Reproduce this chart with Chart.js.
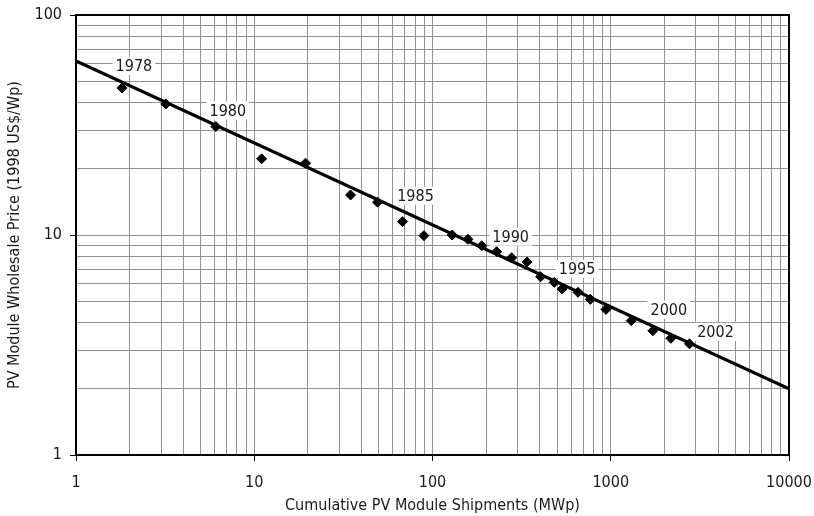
<!DOCTYPE html>
<html>
<head>
<meta charset="utf-8">
<script src="https://cdn.jsdelivr.net/npm/chart.js@4"></script>
<style>
  html, body { margin: 0; padding: 0; background: #fff; }
  #wrap { width: 814px; height: 516px; }
</style>
</head>
<body>
<div id="wrap"><canvas id="pv-chart" width="814" height="516"></canvas></div>
<script>
// 年ごとの累積出荷量 (MWp) と価格 (1998 US$/Wp)
const years = [1978, 1979, 1980, 1981, 1982, 1983, 1984, 1985, 1986, 1987, 1988, 1989, 1990,
               1991, 1992, 1993, 1994, 1995, 1996, 1997, 1998, 1999, 2000, 2001, 2002];
const shipments = [1.81, 3.19, 6.09, 11.0, 19.4, 34.7, 49.2, 67.9, 89.5, 129, 158, 189, 229,
                   278, 339, 404, 482, 533, 655, 768, 940, 1303, 1723, 2174, 2765];
const prices = [46.6, 39.4, 31.1, 22.2, 21.2, 15.2, 14.1, 11.5, 9.93, 10.0, 9.56, 8.94, 8.40,
                7.88, 7.54, 6.46, 6.09, 5.68, 5.49, 5.10, 4.59, 4.08, 3.67, 3.39, 3.20];

// 近似直線の両端
const trendX = [1, 10000];
const trendY = [61.8, 2.0];

// 目盛りラベル
const xTickLabels = [1, 10, 100, 1000, 10000];
const yTickLabels = [1, 10, 100];

// 年ラベルを付ける年
const labeledYears = [1978, 1980, 1985, 1990, 1995, 2000, 2002];

// ラベルの位置 (点からのずれ, px)
const labelOffsets = {
    1978: [12, -22], 1980: [12, -16], 1985: [13, -26], 1990: [14, -15],
    1995: [15, -20], 2000: [16, -21], 2002: [26, -12]
};

const FONT = '"DejaVu Sans Condensed", "DejaVu Sans", sans-serif';
const GRID = '#929292';

// 対数目盛りの補助線 (1,2,...,9 × 10^n)
function logTicks(min, max) {
    const vals = [];
    for (let d = min; d < max; d *= 10) {
        for (let m = 1; m < 10; m++) vals.push(d * m);
    }
    vals.push(max);
    return vals;
}

// 軸ラベルのはみ出し分の余白を消す
function noScalePadding(s) {
    s.paddingLeft = 0;
    s.paddingRight = 0;
    s.paddingTop = 0;
    s.paddingBottom = 0;
}

const yearLabels = {
    id: 'yearLabels',
    beforeDatasetsDraw(chart) {
        const { ctx, scales: { x, y } } = chart;
        ctx.save();
        ctx.font = '16px ' + FONT;
        ctx.textAlign = 'center';
        ctx.textBaseline = 'middle';
        labeledYears.forEach(yr => {
            const i = years.indexOf(yr);
            const [dx, dy] = labelOffsets[yr];
            const px = x.getPixelForValue(shipments[i]) + dx;
            const py = y.getPixelForValue(prices[i]) + dy;
            const w = ctx.measureText(String(yr)).width + 6;
            ctx.fillStyle = '#fff';
            ctx.fillRect(px - w / 2, py - 9, w, 18);
            ctx.fillStyle = '#1a1a1a';
            ctx.fillText(String(yr), px, py + 1);
        });
        // 枠線
        const a = chart.chartArea;
        ctx.strokeStyle = '#000';
        ctx.lineWidth = 2;
        ctx.strokeRect(a.left, a.top, a.right - a.left, a.bottom - a.top);
        ctx.restore();
    }
};

const ctx = document.getElementById('pv-chart').getContext('2d');
new Chart(ctx, {
    type: 'scatter',
    data: {
        datasets: [{
            label: 'Price',
            data: shipments.map((s, i) => ({ x: s, y: prices[i] })),
            pointStyle: 'rectRot',
            pointRadius: 5,
            pointBorderWidth: 1,
            backgroundColor: '#000',
            borderColor: '#000'
        }, {
            label: 'Trend',
            data: trendX.map((t, i) => ({ x: t, y: trendY[i] })),
            showLine: true,
            borderColor: '#000',
            borderWidth: 3,
            pointRadius: 0
        }]
    },
    options: {
        responsive: false,
        devicePixelRatio: 1,
        animation: false,
        layout: { padding: { top: 15, right: 25, bottom: 0, left: 0 } },
        scales: {
            x: {
                type: 'logarithmic',
                min: 1,
                max: 10000,
                afterBuildTicks: s => { s.ticks = logTicks(1, 10000).map(v => ({ value: v })); },
                afterFit: s => { s.height = 61; noScalePadding(s); },
                ticks: {
                    autoSkip: false,
                    maxRotation: 0,
                    padding: 12,
                    color: '#1a1a1a',
                    font: { family: FONT, size: 16 },
                    callback: v => xTickLabels.includes(v) ? String(v) : ''
                },
                grid: {
                    color: GRID,
                    tickLength: 6,
                    tickColor: c => xTickLabels.includes(c.tick.value) ? '#000' : 'transparent'
                },
                border: { color: '#000', width: 2 },
                title: {
                    display: true,
                    text: 'Cumulative PV Module Shipments (MWp)',
                    color: '#1a1a1a',
                    font: { family: FONT, size: 16 },
                    padding: { top: 0, bottom: 1 }
                }
            },
            y: {
                type: 'logarithmic',
                min: 1,
                max: 100,
                afterBuildTicks: s => { s.ticks = logTicks(1, 100).map(v => ({ value: v })); },
                afterFit: s => { s.width = 76; noScalePadding(s); },
                ticks: {
                    autoSkip: false,
                    padding: 8,
                    color: '#1a1a1a',
                    font: { family: FONT, size: 16 },
                    callback: v => yTickLabels.includes(v) ? String(v) : ''
                },
                grid: {
                    color: GRID,
                    tickLength: 6,
                    tickColor: c => yTickLabels.includes(c.tick.value) ? '#000' : 'transparent'
                },
                border: { color: '#000', width: 2 },
                title: {
                    display: true,
                    text: 'PV Module Wholesale Price (1998 US$/Wp)',
                    color: '#1a1a1a',
                    font: { family: FONT, size: 16 },
                    padding: { top: 5, bottom: 0 }
                }
            }
        },
        plugins: {
            legend: { display: false },
            tooltip: { enabled: false }
        }
    },
    plugins: [yearLabels]
});
</script>
</body>
</html>
